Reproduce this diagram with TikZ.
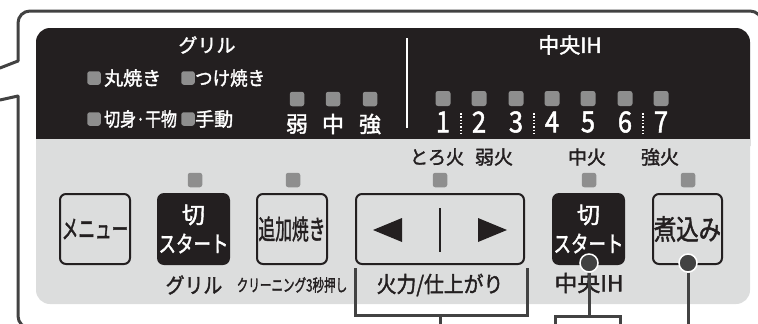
\documentclass[tikz,border=0pt]{standalone}
\usepackage{fontspec}
\usepackage{graphicx}
\setmainfont{Noto Sans CJK JP}[UprightFeatures={FakeBold=1.8}]
\definecolor{ink}{HTML}{231F20}
\definecolor{pgray}{HTML}{DCDDDD}
\definecolor{ledc}{HTML}{8E8E8E}
\definecolor{framec}{HTML}{424242}
\newcommand\fs[1]{\fontsize{#1}{#1}\selectfont}
\newcommand\cnd[2]{\scalebox{#1}[1]{#2}}
\begin{document}
\begin{tikzpicture}[x=1pt,y=-1pt,
  ledsq/.style={fill=ledc, rounded corners=2.5pt, minimum size=14.5pt, inner sep=0pt},
  ledsm/.style={fill=ledc, rounded corners=2.5pt, minimum size=13.5pt, inner sep=0pt},
  wtext/.style={text=white, inner sep=0pt},
  dtext/.style={text=ink, inner sep=0pt},
  btn/.style={draw=ink, line width=2pt, rounded corners=6pt, fill=pgray, minimum width=70pt, minimum height=70pt, inner sep=0pt, text=ink},
  btnk/.style={fill=ink, rounded corners=7pt, minimum width=73pt, minimum height=72pt, inner sep=0pt, text=white, align=center, font=\fontsize{23}{29}\selectfont},
  conn/.style={draw=framec, line width=3pt},
  framest/.style={draw=framec, line width=3pt, line cap=round},
  dotc/.style={circle, fill=framec, draw=white, line width=1.5pt, minimum size=18pt, inner sep=0pt},
]
\useasboundingbox (0,0) rectangle (758,324);
\clip (0,0) rectangle (758,324);
% outer callout frame
\draw[framest] (0,68) -- (18,61);
\draw[framest, rounded corners=12pt] (18,61) -- (18,11) -- (762,11) -- (762,40);
\draw[framest] (0,100) -- (18,96);
\draw[framest, rounded corners=12pt] (18,96) -- (18,328) -- (60,328);
% panel
\fill[pgray, rounded corners=14pt] (36,100) rectangle (750,304);
\fill[ink, rounded corners=14pt] (36,28) rectangle (750,160);
\fill[pgray] (36,139) rectangle (750,175);
% grill section
\node[wtext, font=\fs{19}] (grill) at (207,45) {グリル};
\node[ledsm] (l1) at (94,78) {};
\node[ledsm] (l2) at (188,78) {};
\node[ledsm] (l3) at (94,119) {};
\node[ledsm] (l4) at (188,119) {};
\node[wtext, font=\fs{19}, anchor=west] (t1) at (104,78) {丸焼き};
\node[wtext, font=\fs{19}, anchor=west] (t2) at (195,78) {\cnd{0.92}{つけ焼き}};
\node[wtext, font=\fs{19}, anchor=west] (t3) at (104,119) {\cnd{0.84}{切身·干物}};
\node[wtext, font=\fs{19}, anchor=west] (t4) at (195,119) {手動};
\node[ledsq] (s1) at (297,99) {};
\node[ledsq] (s2) at (333,99) {};
\node[ledsq] (s3) at (370,99) {};
\node[wtext, font=\fs{22}] (w1) at (297,124) {弱};
\node[wtext, font=\fs{22}] (w2) at (333,124) {中};
\node[wtext, font=\fs{22}] (w3) at (370,124) {強};
\draw[white, line width=2pt] (407,38) -- (407,128);
% IH section
\node[wtext, font=\fs{21}] (ih) at (570,45) {中央IH};
\foreach \i/\x in {1/443,2/479,3/516,4/552,5/588,6/625,7/661}{
  \node[ledsq, minimum size=15pt] (n\i) at (\x,98.5) {};
  \node[wtext, font=\fs{29}] (d\i) at (\x,122) {\cnd{0.88}{\i}};
}
\foreach \x in {461,534,643}{
  \draw[white, line width=1.5pt, dash pattern=on 1.5pt off 1.8pt] (\x,113) -- (\x,133);
}
\node[dtext, font=\fs{19}] (h1) at (437,157) {\cnd{0.95}{とろ火}};
\node[dtext, font=\fs{19}] (h2) at (494,157) {弱火};
\node[dtext, font=\fs{19}] (h3) at (587,157) {中火};
\node[dtext, font=\fs{19}] (h4) at (660,157) {強火};
% button leds
\node[ledsq] (b1) at (195,180) {};
\node[ledsq] (b2) at (293,180) {};
\node[ledsq] (b3) at (440,180) {};
\node[ledsq] (b4) at (589,180) {};
\node[ledsq] (b5) at (688,180) {};
% buttons
\node[btn] (menu) at (95,229) {\fs{26}\cnd{0.64}{メニュー}};
\node[btnk] (gstart) at (193.5,229) {切\\\cnd{0.76}{スタート}};
\node[btn] (tsuika) at (292,229) {\fs{27}\cnd{0.62}{追加焼き}};
\node[btn, minimum width=168pt] (arrows) at (440,229) {};
\fill[ink] (373,230) -- (402,218) -- (402,242) -- cycle;
\fill[ink] (507,230) -- (478,218) -- (478,242) -- cycle;
\draw[ink, line width=2.5pt] (440,208) -- (440,252);
\node[btnk] (ihstart) at (588.5,229) {切\\\cnd{0.76}{スタート}};
\node[btn, minimum width=69pt] (nikomi) at (687.5,229) {\fs{28}\cnd{0.8}{煮込み}};
% labels below
\node[dtext, font=\fs{21}] (lg) at (194,285) {\cnd{0.9}{グリル}};
\node[dtext, font=\fs{17}] (lc) at (292,285) {\cnd{0.68}{クリーニング3秒押し}};
\node[dtext, font=\fs{22}] (lk) at (440,285) {\cnd{0.9}{火力/仕上がり}};
\node[dtext, font=\fs{22}] (lih) at (589,283) {\cnd{1.04}{中央IH}};
% connectors
\coordinate (a1) at (355,268);
\coordinate (a2) at (355,315);
\coordinate (a3) at (527,315);
\coordinate (a4) at (527,268);
\coordinate (a5) at (440,315);
\coordinate (a6) at (440,330);
\draw[conn] (a1) -- (a2) -- (a3) -- (a4);
\draw[conn] (a5) -- (a6);
\node[dotc] (dih) at (589,263) {};
\node[dotc] (dnk) at (688,263) {};
\coordinate (c1) at (589,316);
\coordinate (c2) at (555,316);
\coordinate (c3) at (620,316);
\coordinate (c4) at (555,330);
\coordinate (c5) at (620,330);
\coordinate (e1) at (688,330);
\draw[conn] (dih) -- (c1);
\draw[conn] (c4) -- (c2) -- (c3) -- (c5);
\draw[conn] (dnk) -- (e1);
\end{tikzpicture}
\end{document}
